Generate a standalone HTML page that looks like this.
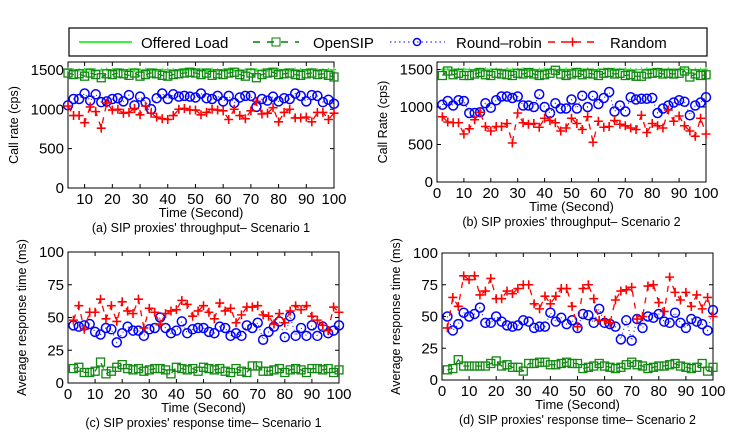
<!DOCTYPE html>
<html><head><meta charset="utf-8"><style>
body{margin:0;background:#fff;width:747px;height:440px;overflow:hidden}
svg{font-family:"Liberation Sans",sans-serif}
</style></head><body>
<svg id="c" width="747" height="440">
<g>
<rect x="69" y="28" width="638" height="28" fill="#fff" stroke="#000" stroke-width="1.2"/>
<line x1="79" y1="42" x2="132" y2="42" stroke="#00ee00" stroke-width="1.5"/><text x="141" y="48" font-size="15">Offered Load</text>
<line x1="253" y1="42" x2="299" y2="42" stroke="#008000" stroke-width="1.5" stroke-dasharray="7,7"/><rect x="272" y="38" width="8" height="8" fill="none" stroke="#008000"/><text x="313" y="48" font-size="15">OpenSIP</text>
<line x1="390" y1="42" x2="445" y2="42" stroke="#0000ff" stroke-width="1" stroke-dasharray="1.5,3"/><circle cx="417" cy="42" r="3.5" fill="none" stroke="#0000ff" stroke-width="1.5"/><text x="456" y="48" font-size="15">Round–robin</text>
<line x1="548" y1="42" x2="598" y2="42" stroke="#ff0000" stroke-width="1.5" stroke-dasharray="7,6"/><path d="M568 42h9M572.5 37.5v9" stroke="#f00" stroke-width="1.5"/><text x="610" y="48" font-size="15">Random</text>
</g>
</svg>
<script>
const xs = [];
for (let i = 1; i <= 50; i++) xs.push(i * 2);
const aOffered = [1500,1505,1495,1500,1505,1500,1495,1500,1505,1500,1500,1495,1505,1500,1500,1505,1495,1500,1500,1505,1500,1495,1500,1505,1500,1500,1495,1505,1500,1500,1505,1495,1500,1500,1505,1500,1495,1500,1505,1500,1500,1495,1505,1500,1500,1505,1495,1500,1500,1505];
const aOpen = [1420,1460,1440,1450,1420,1460,1440,1400,1450,1440,1460,1450,1430,1460,1420,1440,1460,1450,1430,1420,1440,1450,1460,1470,1460,1440,1460,1430,1450,1440,1460,1470,1440,1420,1460,1400,1440,1460,1470,1440,1450,1460,1440,1430,1450,1460,1440,1450,1430,1410];
const aRR = [1140,1050,1130,1130,1200,1110,1190,1090,1100,1130,1140,1100,1180,1050,1160,1090,1000,1140,1200,1130,1190,1160,1170,1160,1150,1200,1140,1130,1170,1100,1170,1080,1150,1170,1170,1030,1130,1110,1160,1100,1140,1130,1200,1170,1100,1180,1170,1090,1120,1070];
const aRand = [900,1040,920,920,830,1030,970,760,1080,990,1000,950,960,1010,930,1040,950,900,880,870,920,1000,1010,990,990,930,960,1000,990,980,870,1000,920,880,980,1100,940,950,1020,840,960,1000,890,890,900,840,960,960,870,950];
const bOffered = aOffered;
const bOpen = [1420,1480,1430,1450,1420,1420,1440,1460,1430,1420,1450,1440,1430,1420,1450,1440,1460,1440,1420,1430,1450,1490,1440,1420,1440,1460,1430,1450,1440,1420,1450,1460,1440,1450,1420,1430,1410,1410,1440,1450,1460,1440,1450,1440,1450,1480,1400,1440,1420,1430];
const bRR = [1030,1080,1020,1090,1080,920,920,930,1050,990,1090,1140,1140,1120,1140,1020,1020,1000,1170,1000,920,1050,980,980,1100,980,1150,1000,1150,1040,1120,1200,940,1020,940,1130,1100,1110,1110,1120,920,980,1020,1060,1090,1070,890,1020,1060,1130];
const bRand = [870,800,790,790,640,710,830,930,740,680,740,740,780,520,920,790,770,780,730,850,820,790,680,720,850,780,700,870,530,810,730,740,820,770,750,720,700,890,660,780,750,720,960,810,880,750,680,610,850,640];
const cOpen = [11,12,8,8,9,16,7,9,12,14,11,10,11,9,10,11,11,10,7,12,11,10,11,9,12,11,10,11,9,8,11,9,8,13,13,9,9,10,11,8,10,11,10,8,11,11,10,11,8,10];
const cRR = [44,43,44,45,39,37,42,41,31,38,43,40,40,36,41,42,50,42,38,40,47,38,41,42,42,39,38,43,42,36,38,36,44,42,46,33,39,43,47,35,51,36,42,36,44,36,43,38,40,44];
const cRand = [48,59,41,54,54,64,49,59,47,62,55,53,64,42,57,54,45,53,55,56,63,60,51,55,59,54,49,61,55,57,46,52,58,58,59,52,51,45,53,46,55,59,56,59,51,48,44,40,58,54];
const dOpen = [8,9,16,11,11,11,11,11,13,15,11,12,10,10,7,13,13,14,14,12,12,13,14,13,13,9,10,11,13,11,10,9,10,12,14,12,11,9,10,11,11,12,13,11,10,9,10,13,7,10];
const dRR = [50,39,44,53,50,52,57,45,45,50,46,43,42,43,47,46,41,42,42,53,46,49,44,47,41,52,51,45,56,45,44,42,32,47,31,48,41,50,49,52,46,45,53,45,41,48,46,44,39,55];
const dRand = [41,65,58,82,79,82,67,70,80,64,64,70,68,72,75,75,60,56,66,60,66,72,72,58,42,72,75,64,47,47,45,63,70,71,73,48,50,74,75,61,54,81,69,63,69,58,67,56,65,50];
const ticksA = [10,20,30,40,50,60,70,80,90,100];
const ticksX = [0,10,20,30,40,50,60,70,80,90,100];
const ticksYT = [0,500,1000,1500];
const ticksYR = [0,25,50,75,100];

const NS='http://www.w3.org/2000/svg';
const svg=document.getElementById('c');
function mk(tag,attrs,parent){const e=document.createElementNS(NS,tag);for(const k in attrs)e.setAttribute(k,attrs[k]);(parent||svg).appendChild(e);return e;}
function panel(p){
  const g=mk('g',{});
  
  
  const X=v=>p.l+(v-p.x0)/(p.x1-p.x0)*(p.r-p.l);
  const Y=v=>p.b-(v-p.y0)/(p.y1-p.y0)*(p.b-p.t);
  mk('rect',{x:p.l,y:p.t,width:p.r-p.l,height:p.b-p.t,fill:'#fff',stroke:'#000','stroke-width':1},g);
  p.xt.forEach(v=>{const x=X(v);
    mk('line',{x1:x,y1:p.b,x2:x,y2:p.b-4,stroke:'#000'},g);mk('line',{x1:x,y1:p.t,x2:x,y2:p.t+4,stroke:'#000'},g);
    const t=mk('text',{x:x,y:p.b+16,'font-size':15,'text-anchor':'middle'},g);t.textContent=v;
    
    });
  p.yt.forEach(v=>{const y=Y(v);
    mk('line',{x1:p.l,y1:y,x2:p.l+4,y2:y,stroke:'#000'},g);mk('line',{x1:p.r,y1:y,x2:p.r-4,y2:y,stroke:'#000'},g);
    const t=mk('text',{x:p.l-4,y:y+5,'font-size':15,'text-anchor':'end'},g);t.textContent=v;
    
    });
  const clip=mk('g',{},g);
  function series(vals,color,dash,marker,nm){
    const s=mk('g',{},clip);
    
    
    const pts=[];xs.forEach((x,i)=>{if(x>=p.x0-0.01)pts.push([X(x),Y(vals[i])]);});
    mk('polyline',{points:pts.map(q=>q.join(',')).join(' '),fill:'none',stroke:color,'stroke-width':dash==='dot'?1:1.3,'stroke-dasharray':dash==='dot'?'1,3':(dash==='solid'?'none':'6,6')},s);
    pts.forEach(q=>{
      if(marker==='sq')mk('rect',{x:q[0]-4,y:q[1]-4,width:8,height:8,fill:'none',stroke:color,'stroke-width':1.3},s);
      else if(marker==='o')mk('circle',{cx:q[0],cy:q[1],r:4.5,fill:'none',stroke:color,'stroke-width':1.5},s);
      else if(marker==='+')mk('path',{d:`M${q[0]-4.5} ${q[1]}h9M${q[0]} ${q[1]-4.5}v9`,stroke:color,'stroke-width':1.6},s);
      else if(marker==='.')mk('path',{d:`M${q[0]-2} ${q[1]}h4M${q[0]} ${q[1]-2}v4`,stroke:color,'stroke-width':1},s);
    });
  }
  if(p.off)series(p.off,'#22ee22','solid','.','offered-load-series');
  series(p.open,'#118811','dash','sq','opensip-series');
  series(p.rr,'#0000ff','dot','o','round-robin-series');
  series(p.rand,'#ff0000','dash','+','random-series');
  const xtl=mk('text',{x:(p.l+p.r)/2,y:p.b+29,'font-size':13,'text-anchor':'middle'},g);xtl.textContent='Time (Second)';
  
  
  const cap=mk('text',{x:(p.l+p.r)/2,y:p.b+44,'font-size':12.5,'text-anchor':'middle'},g);cap.textContent=p.cap;
  
  
  const yx=p.l-p.ytoff,yy=(p.t+p.b)/2;
  const ytl=mk('text',{x:yx,y:yy,'font-size':12.5,'text-anchor':'middle',transform:`rotate(-90 ${yx} ${yy})`},g);ytl.textContent=p.ytitle;
  
  
}
panel({name:'panel-a',l:68,r:334,t:62,b:188,x0:4,x1:100,y0:0,y1:1600,xt:ticksA,yt:ticksYT,off:aOffered,open:aOpen,rr:aRR,rand:aRand,cap:"(a) SIP proxies' throughput– Scenario 1",ytitle:'Call rate (cps)',ytoff:50});
panel({name:'panel-b',l:437,r:706,t:62,b:182,x0:0,x1:100,y0:0,y1:1600,xt:ticksX,yt:ticksYT,off:bOffered,open:bOpen,rr:bRR,rand:bRand,cap:"(b) SIP proxies' throughput– Scenario 2",ytitle:'Call Rate (cps)',ytoff:50});
panel({name:'panel-c',l:68,r:339,t:252,b:383,x0:0,x1:100,y0:0,y1:100,xt:ticksX,yt:ticksYR,open:cOpen,rr:cRR,rand:cRand,cap:"(c) SIP proxies' response time– Scenario 1",ytitle:'Average response time (ms)',ytoff:42});
panel({name:'panel-d',l:442,r:713,t:253,b:380,x0:0,x1:100,y0:0,y1:100,xt:ticksX,yt:ticksYR,open:dOpen,rr:dRR,rand:dRand,cap:"(d) SIP proxies' response time– Scenario 2",ytitle:'Average response time (ms)',ytoff:42});
</script>
</body></html>
